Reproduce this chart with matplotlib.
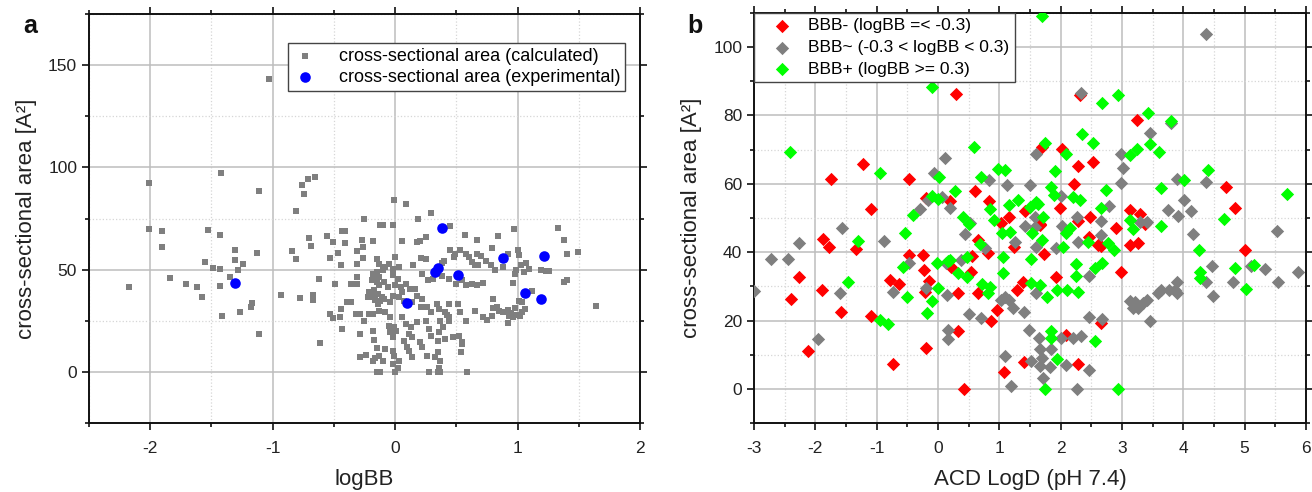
import matplotlib
matplotlib.use("Agg")
import matplotlib.pyplot as plt
from matplotlib.ticker import MultipleLocator
import numpy as np

plt.rcParams['font.family'] = ['Liberation Sans', 'DejaVu Sans']
plt.rcParams['axes.unicode_minus'] = False

# ---------------- Panel a data: (logBB, cross-sectional area) ----------------
calc_points = [
    (-2.17, 41.4), (-2.01, 92.2), (-2.01, 70), (-1.90, 68.8), (-1.90, 61), (-1.84, 46), (-1.71, 42.8),
    (-1.62, 41.3), (-1.58, 36.7), (-1.53, 69.6), (-1.55, 53.7), (-1.49, 50.8), (-1.43, 50.3), (-1.43, 67),
    (-1.42, 97.5), (-1.43, 41.8), (-1.41, 27.2), (-1.31, 59.5), (-1.31, 54.7), (-1.35, 46.3), (-1.28, 49.9),
    (-1.24, 52.9), (-1.27, 29.1), (-1.18, 31.9), (-1.17, 33.6), (-1.13, 58), (-1.11, 88.5), (-1.11, 18.3),
    (-0.93, 37.7), (-0.84, 59.1), (-0.81, 55.2), (-0.81, 78.6), (-0.76, 91.6), (-0.74, 86.8), (-0.71, 94.5),
    (-0.65, 95.5), (-0.78, 36), (-0.67, 37.5), (-0.67, 35), (-0.70, 65.7), (-0.69, 61.4), (-0.62, 45.5),
    (-0.61, 14.1), (-0.56, 66.3), (-0.51, 63.7), (-0.53, 55.9), (-0.47, 58.3), (-0.44, 52.2), (-0.49, 42.9),
    (-0.43, 68.8), (-0.41, 68.8), (-0.41, 62.9), (-0.53, 28.5), (-0.51, 26.4), (-0.45, 26.6), (-0.44, 30.8),
    (-0.43, 20.8), (-0.39, 34.2), (-0.36, 34.2), (-0.36, 42.9), (-0.31, 42.9), (-0.31, 46.3), (-0.25, 75),
    (-0.27, 64.4), (-0.26, 61), (-0.31, 59.2), (-0.26, 55.7), (-0.31, 52.9), (-0.32, 28.3), (-0.29, 28.5),
    (-0.21, 28.2), (-0.18, 28.2), (-0.25, 25), (-0.29, 18.5), (-0.18, 20), (-0.29, 7.3), (-0.24, 8.5),
    (-0.18, 5.4), (-0.16, 7.0), (-0.15, 0), (-0.15, 11.9), (-0.17, 15.6), (-0.16, 37), (-0.17, 40),
    (-0.19, 38), (-0.16, 35), (-0.14, 33), (-0.22, 36.5), (-0.15, 55), (-0.15, 49), (-0.16, 46), (-0.15, 44),
    (-1.03, 143),
    (-0.12, 71.7), (-0.10, 71.7), (-0.02, 71.7), (0.45, 71.2), (0.57, 66.8), (0.67, 64.4), (0.25, 66),
    (0.20, 64), (0.18, 63.6), (0.06, 64), (-0.18, 64),
    (0.45, 59.5), (0.49, 57.8), (0.53, 59.8), (0.48, 56.2), (0.58, 57.8), (0.60, 56.2), (0.63, 53.7),
    (0.67, 57.8), (0.70, 56.5), (0.74, 54.2), (0.68, 52.1), (0.65, 52.1),
    (0.21, 55.9), (0.25, 55.4), (0.38, 53.2), (0.40, 54.2), (0.00, 56.2),
    (-0.13, 52.9), (-0.10, 49.6), (-0.08, 51.3), (-0.05, 52.9), (-0.02, 50.4), (0.03, 51.3), (0.15, 52.1),
    (0.22, 48), (0.27, 44.7), (0.31, 45.5), (0.38, 46.7), (0.44, 45.5), (0.50, 43.1), (0.55, 44.7),
    (0.58, 42.3), (0.63, 43.1), (0.67, 42.3), (0.72, 43.4),
    (-0.18, 48), (-0.13, 46.5), (-0.19, 44.7), (-0.13, 42.3), (-0.09, 43.9), (-0.06, 41.4), (-0.17, 39.8),
    (-0.14, 38.2), (-0.11, 36.5), (-0.09, 35.7), (-0.21, 39), (-0.12, 34.9), (-0.18, 36.5),
    (-0.02, 47.2), (0.02, 45.5), (0.00, 42.3), (0.05, 41.4), (0.06, 39), (0.09, 43.1), (0.12, 40.6),
    (0.03, 36.5), (0.07, 34.9), (-0.02, 37.3), (-0.04, 34.1),
    (0.16, 40.6), (0.18, 37.3), (0.22, 35.7), (0.14, 34.1), (0.21, 31.6),
    (0.26, 31.6), (0.29, 29.2), (0.36, 30.8), (0.34, 33.2), (0.41, 29.2), (0.44, 33.2), (0.42, 28),
    (0.44, 26.7), (0.51, 33.2), (0.53, 29.2), (0.58, 25.1), (0.65, 30), (0.72, 26.7),
    (-0.13, 30), (-0.08, 29.2), (-0.04, 26.7), (-0.05, 22.6), (-0.01, 21.8), (-0.04, 19.3), (0.01, 20.1),
    (-0.02, 16.9), (0.06, 26.7), (0.09, 23.4), (0.13, 21.8), (0.18, 24.2), (0.11, 18.5), (0.14, 16.9),
    (0.07, 15.2), (0.10, 12), (0.25, 25.1), (0.28, 21), (0.29, 17.7), (0.36, 19.3), (0.35, 15.2),
    (0.39, 21.8), (0.41, 16), (0.37, 25.1), (0.44, 25.1), (0.52, 17.7), (0.47, 16.9), (0.55, 14.4),
    (-0.13, 7.9), (-0.10, 5.4), (-0.08, 11.1), (-0.02, 10.3), (-0.01, 7.9), (0.03, 5.4), (-0.02, 3.8),
    (0.02, 2.1), (0.00, 0), (-0.12, 0), (0.26, 7.9), (0.33, 7.1), (0.35, 9.5), (0.37, 5.4), (0.36, 2.1),
    (0.28, 0), (0.35, 0), (0.37, 0), (0.59, 0), (0.11, 10.3), (0.14, 7.4), (0.20, 14.4), (0.22, 12),
    (0.55, 13.6), (0.54, 9.5),
    (-0.01, 84), (0.09, 82.2), (0.29, 77.8), (0.19, 74.9),
    (0.97, 70.1), (1.33, 70.6), (1.38, 64.4), (1.40, 57.8), (1.49, 58.5), (0.84, 66.5), (0.79, 60.8),
    (0.92, 57.8), (1.00, 59.5), (1.01, 57.3), (0.78, 52.1), (0.82, 49.6), (0.88, 51.3), (0.99, 50),
    (1.03, 52.1), (1.07, 53.4), (1.09, 50.4), (1.05, 48.8), (0.98, 48), (1.19, 49.6), (1.23, 49.1),
    (1.26, 49.1), (1.38, 44.2), (1.40, 44.7), (0.96, 43.4), (1.12, 39.5),
    (1.01, 34.9), (1.04, 34.1), (1.06, 30.9), (0.98, 31.3), (0.92, 30.3), (0.95, 28.7), (0.99, 27.8),
    (1.02, 27.5), (1.04, 29.2), (0.93, 27.2), (0.96, 26.7), (0.85, 30), (0.88, 29.2), (0.80, 31.3),
    (0.80, 35.5), (0.83, 31.9), (0.79, 27.5), (0.75, 25.4), (0.92, 23.9), (1.64, 32.4),
]
exp_logbb = [-1.31, 0.10, 0.33, 0.35, 0.38, 0.51, 0.88, 1.06, 1.19, 1.22]
exp_area = [43.6, 33.6, 48.8, 51.0, 70.6, 47.5, 55.7, 38.5, 35.5, 56.7]

# ---------------- Panel b data: (ACD LogD, cross-sectional area) ----------------
bbb_minus = [
    (0.29, 86.3), (-1.23, 65.9), (-1.74, 61.3), (-0.47, 61.3), (-1.10, 52.6), (-0.19, 56), (0.19, 54.9),
    (0.60, 57.8), (0.83, 54.9), (-1.87, 43.8), (-1.77, 41.6), (-1.34, 40.9), (-2.27, 32.7), (-2.40, 26.3),
    (-1.89, 29), (-1.58, 22.6), (-1.10, 21.2), (-2.12, 11.2), (-0.79, 31.9), (-0.63, 30.7), (-0.47, 39.2),
    (-0.25, 39.2), (-0.23, 34.8), (-0.14, 31.5), (-0.21, 28.3), (-0.19, 12.1), (0.33, 28), (0.22, 35.6),
    (0.54, 34.3), (0.55, 38.9), (0.65, 43.7), (0.65, 28), (0.81, 39.7), (0.87, 20), (0.33, 16.8),
    (-0.73, 7.3), (0.43, 0), (0.97, 23.1),
    (3.25, 78.7), (2.03, 70.3), (1.69, 70.8), (2.52, 66.3), (2.29, 65.1), (2.22, 59.9), (4.70, 59.1),
    (4.84, 52.9), (5.00, 40.6), (1.99, 52.8), (1.66, 48.2), (2.48, 50.3), (2.29, 49.1), (2.90, 47.1),
    (3.13, 52.3), (3.30, 51.3), (3.37, 48.2), (3.26, 42.6), (3.13, 42.1), (2.61, 42.1), (2.99, 34.1),
    (2.46, 44.5), (2.66, 41.9), (1.93, 32.8), (1.73, 39.6), (1.39, 31.4), (1.29, 29), (1.24, 41.6),
    (1.15, 50.3), (1.42, 52.1), (1.03, 48.6), (1.67, 47.9), (2.66, 19.2), (2.08, 15.8), (2.29, 7.3),
    (1.40, 7.8), (1.08, 4.9), (2.32, 86),
]
bbb_mid = [
    (-2.73, 37.9), (-2.45, 37.9), (-2.27, 42.8), (-1.96, 14.7), (-1.59, 28), (-1.56, 47), (-3.00, 28.5),
    (-0.88, 43.3), (-0.74, 28.4), (-0.48, 36.9), (-0.30, 52.5), (-0.19, 29.4), (-0.17, 55.2), (-0.06, 63.2),
    (0.12, 67.7), (0.07, 56.2), (0.19, 53), (0.13, 36.7), (0.14, 27.5), (0.16, 17.3), (0.16, 14.7),
    (0.44, 45.3), (0.52, 48.4), (0.38, 37.7), (0.51, 21.9), (0.70, 20.7), (0.83, 61.2), (0.77, 41.1),
    (2.33, 86.5), (3.45, 74.9), (3.80, 77.8), (1.60, 68.6), (1.12, 59.6), (1.50, 59.6), (2.98, 68.6),
    (3.01, 64.6), (2.98, 60.1), (3.89, 61.4), (4.37, 60.6), (4.01, 55.2), (3.75, 52.3), (3.91, 50.6),
    (4.13, 52.1), (4.16, 45.2), (5.53, 46.2), (2.79, 53.5), (2.65, 49.2), (2.66, 45), (2.29, 43.1),
    (2.27, 50.3), (2.00, 56.5), (2.03, 47.7), (1.93, 41.1), (1.58, 50.3), (1.42, 47.7), (1.58, 47.4),
    (1.26, 43.1), (1.60, 41.6), (2.47, 32.9), (3.40, 48.9), (3.30, 48.9), (4.46, 36), (5.10, 36.1),
    (5.34, 35.1), (5.87, 34.3), (5.55, 31.4), (4.81, 31.4), (4.37, 31.4), (4.49, 27.3), (3.90, 31.4),
    (3.86, 29), (3.90, 28), (3.76, 29), (3.64, 29), (3.58, 28), (3.13, 25.6), (3.18, 23.8), (3.26, 23.8),
    (3.35, 25.1), (3.41, 26.1), (3.21, 25.3), (3.46, 19.8), (2.67, 20.4), (2.47, 21), (1.09, 27),
    (1.03, 26.1), (1.15, 26.1), (1.23, 23.8), (1.41, 22.6), (1.60, 28), (1.48, 17.3), (1.65, 14.9),
    (1.67, 11.7), (1.69, 9), (1.67, 6.6), (1.72, 3.2), (1.51, 8.1), (1.85, 11.7), (1.82, 6.4),
    (2.01, 14.9), (2.09, 7.1), (2.20, 14.9), (2.33, 15.6), (2.47, 5.4), (2.26, 0), (1.19, 0.8),
    (1.09, 9.5), (4.37, 103.8),
]
bbb_plus = [
    (-0.09, 88.3), (-2.42, 69.3), (-0.94, 63.2), (0.02, 62), (0.58, 70.8), (0.70, 62), (0.27, 57.8),
    (-0.09, 56.4), (0.00, 55.5), (-0.40, 51), (0.40, 50.3), (0.51, 48.2), (0.85, 52.5), (0.92, 49.4),
    (0.69, 42.4), (-0.53, 45.7), (-1.31, 43.2), (-1.46, 31.4), (-0.57, 35.8), (-0.51, 26.8), (-0.18, 22.2),
    (-0.09, 25.8), (0.00, 29.4), (-0.01, 36.9), (0.20, 37.7), (0.32, 34), (0.48, 32.8), (0.72, 30.6),
    (0.81, 28), (0.85, 29.9), (-0.95, 20.2), (-0.82, 19), (0.48, 38.7), (0.17, 37.5),
    (2.93, 86.1), (2.68, 83.6), (3.42, 80.7), (3.80, 78.3), (2.35, 74.6), (2.53, 71.9), (3.46, 71.7),
    (3.61, 69.3), (3.24, 70.1), (3.13, 68.3), (1.74, 71.9), (2.09, 68.8), (1.91, 63.8), (0.98, 64.4),
    (1.09, 64), (1.85, 59.1), (1.89, 56.7), (2.20, 56.2), (2.31, 55.4), (2.74, 58.3), (4.01, 61.0),
    (4.41, 64.1), (3.63, 58.8), (5.69, 56.9), (4.66, 49.6), (3.64, 47.7), (3.13, 49.4), (3.18, 46.8),
    (2.66, 52.8), (2.77, 42.6), (2.87, 40.6), (2.45, 42.9), (2.25, 36.5), (2.25, 32.9), (2.29, 28.2),
    (2.56, 35.5), (2.68, 36.7), (4.25, 40.6), (4.28, 34.3), (4.28, 32.4), (4.85, 35.5), (5.15, 36.2),
    (5.02, 29.2), (1.94, 28.8), (2.10, 29), (1.77, 27), (1.52, 31.1), (1.67, 30.5), (1.52, 38),
    (1.54, 45.5), (1.69, 43.5), (1.71, 50.3), (1.60, 54.7), (1.63, 54), (1.50, 53.3), (1.31, 55.4),
    (1.15, 53.8), (1.04, 45.7), (1.17, 45.9), (1.06, 38.7), (1.06, 34), (2.04, 41.6), (2.09, 45.5),
    (2.15, 47.1), (1.84, 16.8), (1.84, 14.9), (1.94, 8.7), (2.56, 13.9), (1.74, 0), (2.93, 0),
    (1.70, 109),
]

labels_a = ['cross-sectional area (calculated)', 'cross-sectional area (experimental)']
labels_b = ['BBB- (logBB =< -0.3)', 'BBB~ (-0.3 < logBB < 0.3)', 'BBB+ (logBB >= 0.3)']

GRAY = '#7f7f7f'
TXT = '#222222'

fig = plt.figure(figsize=(13.12, 4.92), dpi=100)
ax1 = fig.add_axes([0.0678, 0.1402, 0.4200, 0.8313])
ax2 = fig.add_axes([0.5747, 0.1402, 0.4207, 0.8334])


def style_axes(ax, xmaj, xmin, ymaj, ymin):
    ax.xaxis.set_major_locator(MultipleLocator(xmaj))
    ax.xaxis.set_minor_locator(MultipleLocator(xmin))
    ax.yaxis.set_major_locator(MultipleLocator(ymaj))
    ax.yaxis.set_minor_locator(MultipleLocator(ymin))
    ax.grid(True, which='major', color='#bdbdbd', lw=1.1, ls='-')
    ax.grid(True, which='minor', color='#d6d6d6', lw=0.9, ls=':')
    ax.set_axisbelow(True)
    for s in ax.spines.values():
        s.set_linewidth(1.4)
        s.set_color('#111111')
    ax.tick_params(which='both', direction='out', top=True, right=True,
                   labeltop=False, labelright=False, colors='#111111',
                   labelcolor=TXT, labelsize=12.5, width=1.2)
    ax.tick_params(which='major', length=5)
    ax.tick_params(which='minor', length=3)
    ax.tick_params(axis='x', which='major', pad=8)


# ---- Panel a ----
cx = [p[0] for p in calc_points]
cy = [p[1] for p in calc_points]
ax1.scatter(cx, cy, marker='s', s=18, color=GRAY, linewidths=0, label=labels_a[0], zorder=3)
ax1.scatter(exp_logbb, exp_area, marker='o', s=58, color='#0000ff', linewidths=0, label=labels_a[1], zorder=4)
ax1.set_xlim(-2.5, 2)
ax1.set_ylim(-25, 175)
style_axes(ax1, 1, 0.5, 50, 25)
ax1.set_xlabel('logBB', fontsize=16, color=TXT, labelpad=9)
ax1.set_ylabel('cross-sectional area [A²]', fontsize=16, color=TXT, labelpad=8)
leg1 = ax1.legend(loc='upper right', bbox_to_anchor=(0.973, 0.929), borderaxespad=0, fontsize=13,
                  frameon=True, fancybox=False, edgecolor='#444444', framealpha=1, borderpad=0.25,
                  handlelength=1.4, handletextpad=1.2, labelspacing=0.25)
leg1.get_frame().set_linewidth(1.0)

# ---- Panel b ----
for data, col, lab in [(bbb_minus, '#ff0000', labels_b[0]),
                       (bbb_mid, GRAY, labels_b[1]),
                       (bbb_plus, '#00ff00', labels_b[2])]:
    ax2.scatter([p[0] for p in data], [p[1] for p in data], marker='D', s=46,
                color=col, linewidths=0, label=lab, zorder=3)
ax2.set_xlim(-3, 6)
ax2.set_ylim(-10, 110)
style_axes(ax2, 1, 0.5, 20, 10)
ax2.set_xlabel('ACD LogD (pH 7.4)', fontsize=16, color=TXT, labelpad=9)
ax2.set_ylabel('cross-sectional area [A²]', fontsize=16, color=TXT, labelpad=8)
leg2 = ax2.legend(loc='upper left', bbox_to_anchor=(0.0, 1.0), borderaxespad=0, fontsize=12.5,
                  frameon=True, fancybox=False, edgecolor='#444444', framealpha=1,
                  borderpad=0.3, handlelength=2.6, handletextpad=0.22, labelspacing=0.38)
leg2.get_frame().set_linewidth(1.0)

fig.text(0.018, 0.947, 'a', fontsize=18, fontweight='bold', color='#111111', va='center')
fig.text(0.524, 0.947, 'b', fontsize=18, fontweight='bold', color='#111111', va='center')

fig.savefig('out.png', dpi=100)
